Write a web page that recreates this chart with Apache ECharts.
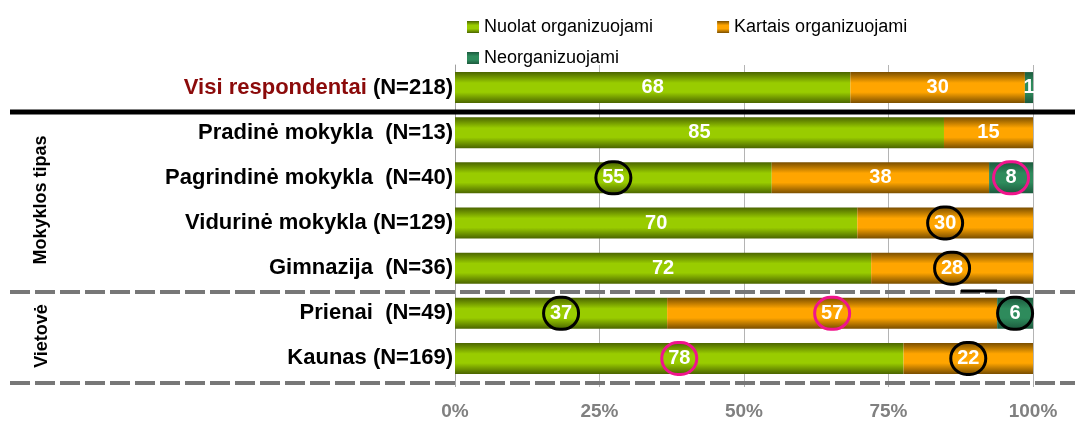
<!DOCTYPE html>
<html>
<head>
<meta charset="utf-8">
<script src="https://cdn.jsdelivr.net/npm/echarts@6/dist/echarts.min.js"></script>
<style>
  html, body { margin: 0; padding: 0; background: #fff; }
  #chart { width: 1075px; height: 421px; }
</style>
</head>
<body>
<div id="chart"></div>
<script>
const categories = [
  'Visi respondentai (N=218)',
  'Pradinė mokykla  (N=13)',
  'Pagrindinė mokykla  (N=40)',
  'Vidurinė mokykla (N=129)',
  'Gimnazija  (N=36)',
  'Prienai  (N=49)',
  'Kaunas (N=169)'
]
const seriesNames = ['Nuolat organizuojami', 'Kartais organizuojami', 'Neorganizuojami']
const nuolat = [68.4, 84.6, 54.8, 69.6, 72, 36.7, 77.6]
const kartais = [30.2, 15.4, 37.6, 30.4, 28, 57.1, 22.4]
const neorg = [1.4, 0, 7.6, 0, 0, 6.2, 0]
const xTicks = [0, 25, 50, 75, 100]

// apvestos reikšmės: [serija, kategorija, spalva]
const circled = [
  [0, 2, 'black'], [2, 2, 'pink'],
  [1, 3, 'black'], [1, 4, 'black'],
  [0, 5, 'black'], [1, 5, 'pink'], [2, 5, 'black'],
  [0, 6, 'pink'], [1, 6, 'black']
]

const ringColor = { black: '#000000', pink: '#f0148c' }
const font = 'Liberation Sans, Arial, sans-serif'

const grad = (edge, mid) => new echarts.graphic.LinearGradient(0, 0, 0, 1, [
  { offset: 0, color: edge },
  { offset: 0.35, color: mid },
  { offset: 0.65, color: mid },
  { offset: 1, color: edge }
])
const colors = [
  grad('#4b6500', '#99cc00'),
  grad('#7a4e00', '#ffa500'),
  grad('#1c5a3e', '#2e8b5c')
]

const buildData = (values, si) => values.map((v, ci) => {
  const c = circled.find((r) => r[0] === si && r[1] === ci)
  if (!c) return v
  return {
    value: v,
    label: {
      borderColor: ringColor[c[2]],
      borderWidth: 3,
      borderRadius: 18,
      width: 35,
      height: 32,
      lineHeight: 32,
      align: 'center',
      verticalAlign: 'middle'
    }
  }
})

const chart = echarts.init(document.getElementById('chart'))

const legendText = { fontSize: 18, color: '#000', fontFamily: font }

chart.setOption({
  animation: false,
  color: colors,
  textStyle: { fontFamily: font },
  legend: [
    {
      data: seriesNames.slice(0, 2),
      left: 462,
      top: 13,
      icon: 'rect',
      itemWidth: 12,
      itemHeight: 12,
      itemGap: 64,
      textStyle: legendText
    },
    {
      data: seriesNames.slice(2),
      left: 462,
      top: 44,
      icon: 'rect',
      itemWidth: 12,
      itemHeight: 12,
      textStyle: legendText
    }
  ],
  grid: {
    left: 455,
    right: 42,
    top: 65,
    bottom: 37
  },
  xAxis: {
    type: 'value',
    min: xTicks[0],
    max: xTicks[xTicks.length - 1],
    interval: 25,
    axisLine: { show: false },
    axisTick: { show: true, length: 6, lineStyle: { color: '#aaaaaa' } },
    splitLine: { show: true, lineStyle: { color: '#b4b4b4', width: 1 } },
    axisLabel: {
      formatter: '{value}%',
      color: '#808080',
      fontSize: 19,
      fontWeight: 'bold',
      margin: 21
    }
  },
  yAxis: {
    type: 'category',
    inverse: true,
    data: categories,
    axisTick: { show: false },
    axisLine: { show: true, lineStyle: { color: '#a0a0a0', width: 1 } },
    axisLabel: {
      margin: 2,
      fontSize: 22,
      fontWeight: 'bold',
      color: '#000',
      formatter: (val) => {
        if (val.indexOf('Visi respondentai') === 0) {
          return '{r|Visi respondentai} {b|' + val.replace('Visi respondentai ', '') + '}'
        }
        return '{b|' + val + '}'
      },
      rich: {
        r: { color: '#8b0a0a', fontSize: 22, fontWeight: 'bold' },
        b: { color: '#000', fontSize: 22, fontWeight: 'bold' }
      }
    }
  },
  series: [nuolat, kartais, neorg].map((vals, si) => ({
    name: seriesNames[si],
    type: 'bar',
    stack: 'total',
    barWidth: 31,
    clip: false,
    label: {
      show: true,
      position: 'inside',
      color: '#fff',
      fontSize: 20,
      fontWeight: 'bold',
      formatter: (p) => (p.value > 0 ? Math.round(p.value) : '')
    },
    data: buildData(vals, si)
  })),
  graphic: [
    {
      type: 'line',
      z: 100,
      shape: { x1: 10, y1: 112, x2: 1075, y2: 112 },
      style: { stroke: '#000', lineWidth: 5 }
    },
    {
      type: 'line',
      z: 100,
      shape: { x1: 10, y1: 292, x2: 1075, y2: 292 },
      style: { stroke: '#777', lineWidth: 4, lineDash: [20, 5] }
    },
    {
      type: 'line',
      z: 100,
      shape: { x1: 10, y1: 383, x2: 1075, y2: 383 },
      style: { stroke: '#777', lineWidth: 4, lineDash: [20, 5] }
    },
    {
      type: 'line',
      z: 101,
      shape: { x1: 961, y1: 291, x2: 997, y2: 291 },
      style: { stroke: '#000', lineWidth: 3 }
    },
    {
      type: 'text',
      x: 41,
      y: 200,
      rotation: Math.PI / 2,
      style: {
        text: 'Mokyklos tipas',
        fontSize: 18,
        fontWeight: 'bold',
        fill: '#000',
        align: 'center',
        verticalAlign: 'middle',
        fontFamily: font
      }
    },
    {
      type: 'text',
      x: 42,
      y: 336,
      rotation: Math.PI / 2,
      style: {
        text: 'Vietovė',
        fontSize: 18,
        fontWeight: 'bold',
        fill: '#000',
        align: 'center',
        verticalAlign: 'middle',
        fontFamily: font
      }
    }
  ]
})
</script>
</body>
</html>
